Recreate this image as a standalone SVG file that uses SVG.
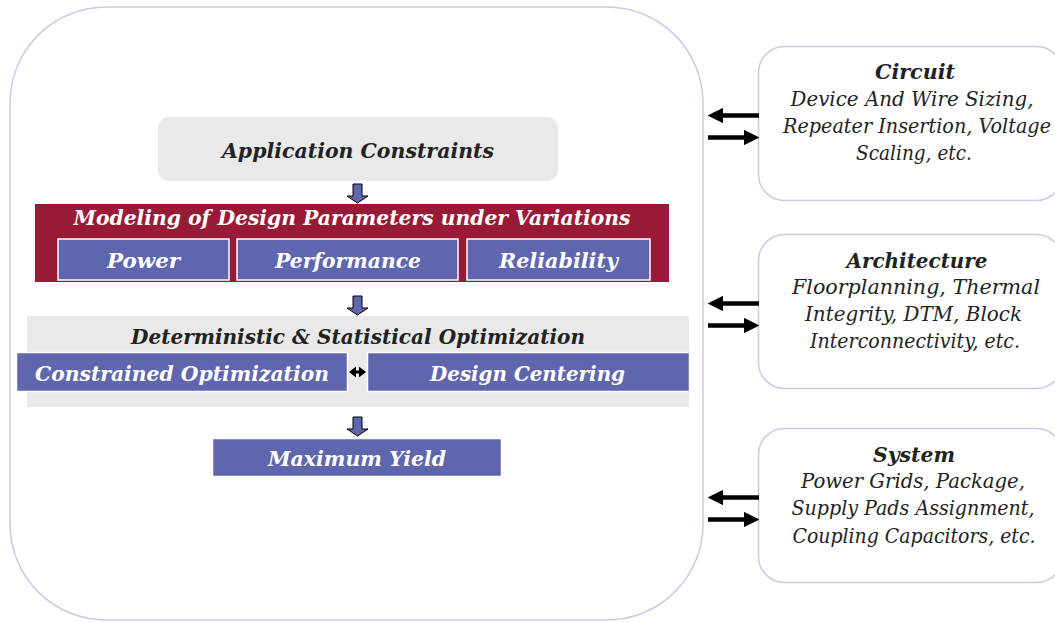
<svg xmlns="http://www.w3.org/2000/svg" width="1055" height="623" viewBox="0 0 1055 623">
  <defs>
    <style>
      .t { font-family: "DejaVu Serif", "Liberation Serif", serif; font-style: italic; }
      .b { font-weight: bold; }
      .dark { fill: #222222; }
      .white { fill: #ffffff; }
      .frame { fill: #ffffff; stroke: #cbc8e8; stroke-width: 1.5; }
      .gray { fill: #e9e9e9; }
      .blue { fill: #6066ae; stroke: #ffffff; stroke-width: 1.5; }
      .red { fill: #991a36; }
      .flow { fill: #6066ae; stroke: #000000; stroke-width: 1; }
      .link { stroke: #000000; stroke-width: 4.5; fill: none; }
    </style>
    <marker id="head" viewBox="0 0 10 10" refX="0" refY="5" markerWidth="3.4" markerHeight="3.4" orient="auto" markerUnits="strokeWidth">
      <path d="M0,0 L10,5 L0,10 z" fill="#000000"/>
    </marker>
    <path id="down" d="M-4.5,0 H4.5 V12 H10.5 L0,19 L-10.5,12 H-4.5 Z"/>
  </defs>

  <!-- outer container -->
  <g id="container">
    <rect class="frame" x="10" y="7" width="693" height="613" rx="96" ry="96"/>
  </g>

  <g id="app-constraints">
    <rect class="gray" x="158" y="117" width="400" height="64" rx="11"/>
    <text class="t b dark" x="358" y="158" font-size="21" text-anchor="middle" textLength="272" lengthAdjust="spacingAndGlyphs">Application Constraints</text>
  </g>

  <g id="modeling">
    <rect class="red" x="35" y="204" width="634" height="78"/>
    <text class="t b white" x="352" y="224.5" font-size="21" text-anchor="middle" textLength="557" lengthAdjust="spacingAndGlyphs">Modeling of Design Parameters under Variations</text>
  </g>
  <g id="power">
    <rect class="blue" x="58" y="239" width="171" height="41"/>
    <text class="t b white" x="143.5" y="267.5" font-size="21" text-anchor="middle" textLength="73" lengthAdjust="spacingAndGlyphs">Power</text>
  </g>
  <g id="performance">
    <rect class="blue" x="237" y="239" width="221" height="41"/>
    <text class="t b white" x="348" y="267.5" font-size="21" text-anchor="middle" textLength="146" lengthAdjust="spacingAndGlyphs">Performance</text>
  </g>
  <g id="reliability">
    <rect class="blue" x="467" y="239" width="183" height="41"/>
    <text class="t b white" x="558.5" y="267.5" font-size="21" text-anchor="middle" textLength="119" lengthAdjust="spacingAndGlyphs">Reliability</text>
  </g>

  <g id="optimization">
    <rect class="gray" x="27" y="316" width="662" height="91"/>
    <text class="t b dark" x="358" y="344" font-size="21" text-anchor="middle" textLength="454" lengthAdjust="spacingAndGlyphs">Deterministic &amp; Statistical Optimization</text>
  </g>
  <g id="constrained">
    <rect class="blue" x="16.5" y="352.5" width="331" height="39"/>
    <text class="t b white" x="182" y="381" font-size="21" text-anchor="middle" textLength="294" lengthAdjust="spacingAndGlyphs">Constrained Optimization</text>
  </g>
  <g id="centering">
    <rect class="blue" x="367.5" y="352.5" width="322" height="39"/>
    <text class="t b white" x="527.5" y="381" font-size="21" text-anchor="middle" textLength="195" lengthAdjust="spacingAndGlyphs">Design Centering</text>
  </g>

  <g id="max-yield">
    <rect class="blue" x="212.5" y="438.5" width="289" height="38" stroke="none"/>
    <text class="t b white" x="357" y="465.5" font-size="21" text-anchor="middle" textLength="178" lengthAdjust="spacingAndGlyphs">Maximum Yield</text>
  </g>

  <g id="circuit">
    <rect class="frame" x="758.5" y="46.5" width="304" height="154" rx="26"/>
    <text class="t b dark" x="915" y="79" font-size="20" text-anchor="middle" textLength="80" lengthAdjust="spacingAndGlyphs">Circuit</text>
    <text class="t dark" x="912" y="106" font-size="19.5" text-anchor="middle" textLength="243" lengthAdjust="spacingAndGlyphs">Device And Wire Sizing,</text>
    <text class="t dark" x="917" y="133" font-size="19.5" text-anchor="middle" textLength="268" lengthAdjust="spacingAndGlyphs">Repeater Insertion, Voltage</text>
    <text class="t dark" x="914" y="160" font-size="19.5" text-anchor="middle" textLength="116" lengthAdjust="spacingAndGlyphs">Scaling, etc.</text>
  </g>

  <g id="architecture">
    <rect class="frame" x="758.5" y="234.5" width="304" height="154" rx="26"/>
    <text class="t b dark" x="917" y="268" font-size="20" text-anchor="middle" textLength="141" lengthAdjust="spacingAndGlyphs">Architecture</text>
    <text class="t dark" x="916" y="294" font-size="19.5" text-anchor="middle" textLength="248" lengthAdjust="spacingAndGlyphs">Floorplanning, Thermal</text>
    <text class="t dark" x="913.5" y="321" font-size="19.5" text-anchor="middle" textLength="217" lengthAdjust="spacingAndGlyphs">Integrity, DTM, Block</text>
    <text class="t dark" x="915" y="348" font-size="19.5" text-anchor="middle" textLength="210" lengthAdjust="spacingAndGlyphs">Interconnectivity, etc.</text>
  </g>

  <g id="system">
    <rect class="frame" x="758.5" y="428.5" width="304" height="154" rx="26"/>
    <text class="t b dark" x="914" y="462" font-size="20" text-anchor="middle" textLength="82" lengthAdjust="spacingAndGlyphs">System</text>
    <text class="t dark" x="913" y="488" font-size="19.5" text-anchor="middle" textLength="224" lengthAdjust="spacingAndGlyphs">Power Grids, Package,</text>
    <text class="t dark" x="913" y="515" font-size="19.5" text-anchor="middle" textLength="243" lengthAdjust="spacingAndGlyphs">Supply Pads Assignment,</text>
    <text class="t dark" x="914" y="543" font-size="19.5" text-anchor="middle" textLength="243" lengthAdjust="spacingAndGlyphs">Coupling Capacitors, etc.</text>
  </g>

  <g id="connectors">
    <!-- downward flow arrows -->
    <use href="#down" class="flow" x="357.5" y="184"/>
    <use href="#down" class="flow" x="357.5" y="296"/>
    <use href="#down" class="flow" x="357.5" y="417"/>
    <!-- two-way link between the optimization boxes -->
    <path d="M349,372 L356,366.5 L356,370.5 L359,370.5 L359,366.5 L366,372 L359,377.5 L359,373.5 L356,373.5 L356,377.5 Z" fill="#000000"/>
    <!-- exchanges with the level boxes -->
    <line class="link" x1="759" y1="115.5" x2="723" y2="115.5" marker-end="url(#head)"/>
    <line class="link" x1="708" y1="137.5" x2="744" y2="137.5" marker-end="url(#head)"/>
    <line class="link" x1="759" y1="303.5" x2="723" y2="303.5" marker-end="url(#head)"/>
    <line class="link" x1="708" y1="325.5" x2="744" y2="325.5" marker-end="url(#head)"/>
    <line class="link" x1="759" y1="497.5" x2="723" y2="497.5" marker-end="url(#head)"/>
    <line class="link" x1="708" y1="519.5" x2="744" y2="519.5" marker-end="url(#head)"/>
  </g>
</svg>
